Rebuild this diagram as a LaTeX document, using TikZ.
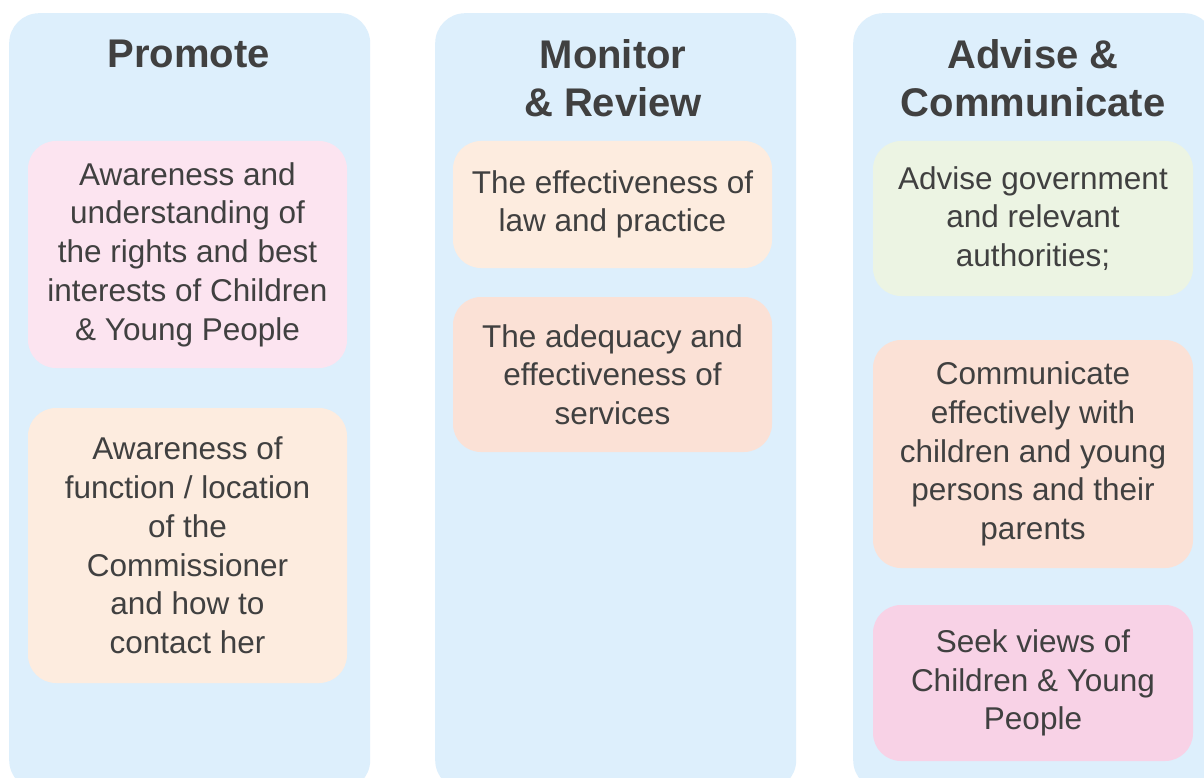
\documentclass[tikz,border=0pt]{standalone}
\usepackage{fontspec}
\setmainfont{Liberation Sans}
\definecolor{colbg}{RGB}{221,239,252}
\definecolor{pinkA}{RGB}{252,228,240}
\definecolor{peach}{RGB}{253,236,223}
\definecolor{salmon}{RGB}{251,225,214}
\definecolor{greenA}{RGB}{236,244,227}
\definecolor{pinkB}{RGB}{248,210,230}
\definecolor{txt}{RGB}{64,64,64}
\begin{document}
\begin{tikzpicture}[x=1pt,y=-1pt,
  column/.style={fill=colbg, rounded corners=30pt, inner sep=0pt, anchor=north west, minimum width=361pt, minimum height=777pt},
  item/.style={rounded corners=28pt, align=center, text=txt, inner sep=0pt, font=\fontsize{31.5}{38.7}\selectfont},
  heading/.style={align=center, text=txt, inner sep=0pt, font=\fontsize{40}{48}\selectfont\bfseries}]
\useasboundingbox (0,0) rectangle (1204,778);
\clip (0,0) rectangle (1204,778);
\fill[white] (0,0) rectangle (1204,778);
% columns
\node[column] (c1) at (9,13) {};
\node[column] (c2) at (435,13) {};
\node[column] (c3) at (853,13) {};
% headings
\node[heading, anchor=base] (h1) at (188.5,68) {Promote};
\node[heading] (h2) at (613,78) {Monitor\\\& Review};
\node[heading] (h3) at (1033,78) {Advise \&\\Communicate};
% column 1
\node[item, fill=pinkA, minimum width=319pt, minimum height=227pt] (p1) at (187.5,254.5)
  {Awareness and\\understanding of\\the rights and best\\interests of Children\\\& Young People};
\node[item, fill=peach, minimum width=319pt, minimum height=275pt] (p2) at (187.5,545.5)
  {Awareness of\\function / location\\of the\\Commissioner\\and how to\\contact her};
% column 2
\node[item, fill=peach, minimum width=319pt, minimum height=127pt] (m1) at (612.5,204.5)
  {The effectiveness of\\law and practice};
\node[item, fill=salmon, minimum width=319pt, minimum height=155pt] (m2) at (612.5,374.5)
  {The adequacy and\\effectiveness of\\services};
% column 3
\node[item, fill=greenA, minimum width=320pt, minimum height=155pt] (a1) at (1033,218.5)
  {Advise government\\and relevant\\authorities;};
\node[item, fill=salmon, minimum width=320pt, minimum height=228pt] (a2) at (1033,454)
  {Communicate\\effectively with\\children and young\\persons and their\\parents};
\node[item, fill=pinkB, minimum width=320pt, minimum height=156pt] (a3) at (1033,683)
  {Seek views of\\Children \& Young\\People};
\end{tikzpicture}
\end{document}
